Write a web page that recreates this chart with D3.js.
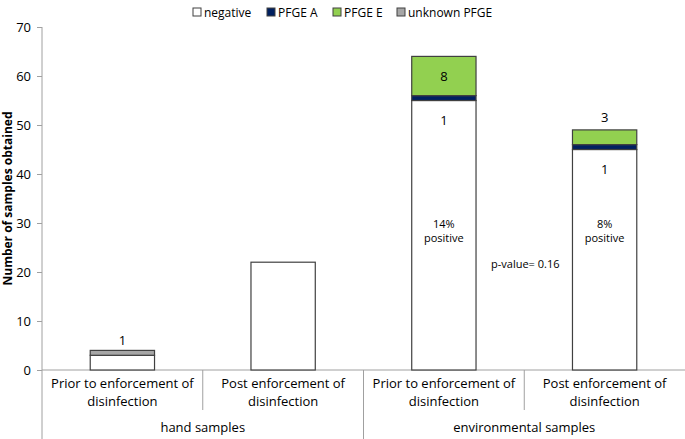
<!DOCTYPE html>
<html>
<head>
<meta charset="utf-8">
<script src="https://cdn.jsdelivr.net/npm/d3@7"></script>
<style>
  body { margin: 0; background: #fff; }
  text { font-family: "Open Sans", "Liberation Sans", sans-serif; fill: #000; }
</style>
</head>
<body>
<script>
// categories (two-level axis)
var groups = ["hand samples", "environmental samples"];
var phases = ["Prior to enforcement of disinfection", "Post enforcement of disinfection"];
var categories = ["hand-prior", "hand-post", "env-prior", "env-post"];

// series values per category
var seriesNames = ["negative", "PFGE A", "PFGE E", "unknown PFGE"];
var negative = [3, 22, 55, 45];
var pfgeA = [0, 0, 1, 1];
var pfgeE = [0, 0, 8, 3];
var unknown = [1, 0, 0, 0];
var colors = ["#ffffff", "#002060", "#92d050", "#a6a6a6"];

var yTicks = [0, 10, 20, 30, 40, 50, 60, 70];
var percentLabels = ["", "", "14%\npositive", "8%\npositive"];

var width = 685, height = 439;
var margin = {top: 27, right: 0, bottom: 69, left: 42};

var svg = d3.select("body").append("svg")
    .attr("width", width)
    .attr("height", height);

var x = d3.scaleBand()
    .domain(categories)
    .range([margin.left, width - margin.right])
    .paddingInner(0.6)
    .paddingOuter(0.3);

var y = d3.scaleLinear()
    .domain([0, 70])
    .range([height - margin.bottom, margin.top]);

// stack the data
var table = categories.map(function(c, i) {
  return {cat: c, "negative": negative[i], "PFGE A": pfgeA[i], "PFGE E": pfgeE[i], "unknown PFGE": unknown[i]};
});
var stacked = d3.stack().keys(seriesNames)(table);

// y axis
var yAxis = svg.append("g")
    .attr("transform", "translate(" + margin.left + ",0)")
    .call(d3.axisLeft(y).tickValues(yTicks).tickSize(5).tickPadding(6));
yAxis.select(".domain").remove();
yAxis.selectAll("line").attr("stroke", "#a0a0a0");
yAxis.selectAll("text").style("font-size", "13px").style("font-family", "'Open Sans', sans-serif").attr("fill", "#000");

svg.append("line")
    .attr("x1", margin.left).attr("x2", margin.left)
    .attr("y1", margin.top).attr("y2", height)
    .attr("stroke", "#a0a0a0");

// baseline
svg.append("line")
    .attr("x1", margin.left).attr("x2", width)
    .attr("y1", y(0)).attr("y2", y(0))
    .attr("stroke", "#a0a0a0");

// separators under axis
var left0 = margin.left;
var quarter = (width - left0) / 4;
[1, 3].forEach(function(k) {
  svg.append("line")
      .attr("x1", left0 + k * quarter).attr("x2", left0 + k * quarter)
      .attr("y1", y(0)).attr("y2", y(0) + 40)
      .attr("stroke", "#a0a0a0");
});
svg.append("line")
    .attr("x1", left0 + 2 * quarter).attr("x2", left0 + 2 * quarter)
    .attr("y1", y(0)).attr("y2", height)
    .attr("stroke", "#a0a0a0");

// bars
svg.append("g").selectAll("g")
  .data(stacked)
  .join("g")
    .attr("fill", function(d, i) { return colors[i]; })
  .selectAll("rect")
  .data(function(d) { return d.filter(function(p) { return p[1] - p[0] > 0; }); })
  .join("rect")
    .attr("x", function(d) { return x(d.data.cat); })
    .attr("width", x.bandwidth())
    .attr("y", function(d) { return y(d[1]); })
    .attr("height", function(d) { return y(d[0]) - y(d[1]); })
    .attr("stroke", "#404040")
    .attr("stroke-width", 1.2);

// value labels
function cx(i) { return x(categories[i]) + x.bandwidth() / 2; }
var fs = "13px";
// unknown label above hand prior
svg.append("text").attr("x", cx(0)).attr("y", y(negative[0] + unknown[0]) - 5)
    .attr("text-anchor", "middle").style("font-size", fs).text(unknown[0]);
// PFGE E inside env prior
svg.append("text").attr("x", cx(2)).attr("y", y(negative[2] + pfgeA[2] + pfgeE[2] / 2) + 5)
    .attr("text-anchor", "middle").style("font-size", fs).text(pfgeE[2]);
// PFGE A below navy
[2, 3].forEach(function(i) {
  svg.append("text").attr("x", cx(i)).attr("y", y(negative[i]) + 24)
      .attr("text-anchor", "middle").style("font-size", fs).text(pfgeA[i]);
});
// PFGE E above env post
svg.append("text").attr("x", cx(3)).attr("y", y(negative[3] + pfgeA[3] + pfgeE[3]) - 8)
    .attr("text-anchor", "middle").style("font-size", fs).text(pfgeE[3]);

// percent labels
[2, 3].forEach(function(i) {
  var t = svg.append("text").attr("text-anchor", "middle").style("font-size", "11px")
      .attr("x", cx(i)).attr("y", 228);
  percentLabels[i].split("\n").forEach(function(s, k) {
    t.append("tspan").attr("x", cx(i)).attr("dy", k === 0 ? 0 : 14).text(s);
  });
});

svg.append("text").attr("x", 491).attr("y", 268).style("font-size", "11px").text("p-value= 0.16");

// category labels
categories.forEach(function(c, i) {
  var words = phases[i % 2];
  var line1 = words.replace(" disinfection", "");
  var t = svg.append("text").attr("text-anchor", "middle").style("font-size", "13px")
      .attr("y", 388);
  t.append("tspan").attr("x", left0 + quarter * (i + 0.5)).text(line1);
  t.append("tspan").attr("x", left0 + quarter * (i + 0.5)).attr("dy", 18).text("disinfection");
});
groups.forEach(function(g, i) {
  svg.append("text").attr("text-anchor", "middle").style("font-size", "13px")
      .attr("x", left0 + quarter * (2 * i + 1)).attr("y", 432).text(g);
});

// y title
svg.append("text")
    .attr("transform", "translate(12," + (y(35)) + ") rotate(-90)")
    .attr("text-anchor", "middle")
    .style("font-size", "12px").style("font-weight", "bold")
    .text("Number of samples obtained");

// legend
var legendX = [193, 267, 333, 397];
var legend = svg.append("g").selectAll("g")
  .data(seriesNames)
  .join("g")
    .attr("transform", function(d, i) { return "translate(" + legendX[i] + ",8)"; });
legend.append("rect")
    .attr("width", 8).attr("height", 8)
    .attr("fill", function(d, i) { return colors[i]; })
    .attr("stroke", "#404040");
legend.append("text")
    .attr("x", 11).attr("y", 8.5)
    .style("font-size", "12px")
    .text(function(d) { return d; });
</script>
</body>
</html>
